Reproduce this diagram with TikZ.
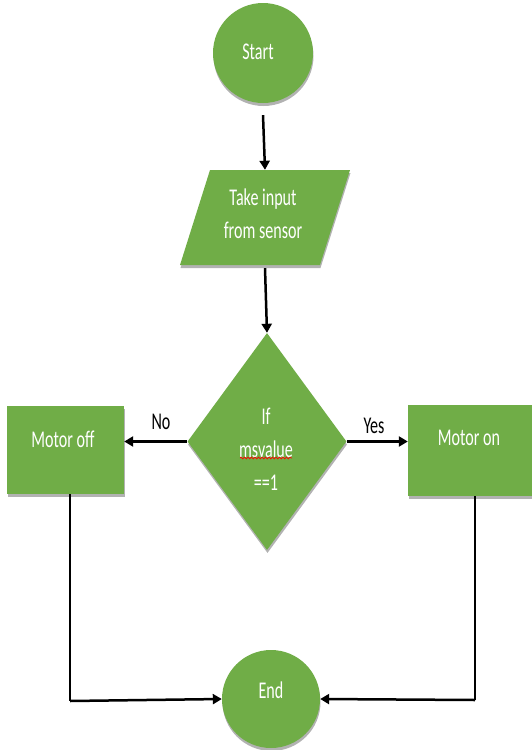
\documentclass[tikz,border=0pt]{standalone}
\usepackage{fontspec}
\setmainfont{Carlito}[FakeStretch=0.67]
\usetikzlibrary{arrows.meta,shapes.geometric,shadows,decorations.pathmorphing}
\definecolor{flgreen}{RGB}{112,173,71}
\begin{document}
\begin{tikzpicture}[x=1pt,y=-1pt,
  shp/.style={fill=flgreen, draw=none, inner sep=0pt,
    drop shadow={shadow xshift=0.5pt,shadow yshift=-3pt,opacity=0.3,fill=black}},
  txt/.style={text=white, font=\fontsize{24}{33}\selectfont, align=center, inner sep=0pt},
  lbl/.style={text=black, font=\fontsize{24}{33}\selectfont, inner sep=0pt},
  arr/.style={line width=2.5pt, -{Triangle[length=9pt,width=10pt]}},
  linkline/.style={line width=1.2pt}]
\useasboundingbox (0,0) rectangle (531,750);
% shapes
\node[shp, circle, minimum size=100pt] (start) at (263,53) {};
\node[txt] (starttxt) at (258,52) {Start};

\path[shp] (210,170) -- (350,170) -- (320,265) -- (180,265) -- cycle;
\node[minimum width=140pt, minimum height=95pt, inner sep=0pt] (inp) at (265,217.5) {};
\node[txt] (inptxt) at (263,213.5) {Take input\\from sensor};

\node[shp, diamond, minimum width=159pt, minimum height=217pt] (dia) at (267,441.5) {};
\node[txt] (diatxt) at (266,449) {If\\msvalue\\==1};
\draw[red, line width=0.7pt, decorate, decoration={snake, amplitude=0.9pt, segment length=3.5pt}] (240,458) -- (292,458);

\node[shp, rectangle, minimum width=117pt, minimum height=88pt] (off) at (65.5,450) {};
\node[txt] (offtxt) at (63,439) {Motor off};

\node[shp, rectangle, minimum width=130pt, minimum height=91pt] (on) at (473,450.5) {};
\node[txt] (ontxt) at (469,438) {Motor on};

\node[shp, circle, minimum size=98pt] (end) at (271,699) {};
\node[txt] (endtxt) at (271,690) {End};

% connectors
\draw[arr] ([yshift=-12pt]start.south) -- (inp.north);
\draw[arr] ([yshift=-3pt]inp.south) -- (dia.north);
\draw[arr] (dia.west) -- (dia.west -| off.east);
\draw[arr] (dia.east) -- (dia.east -| on.west);
\node[lbl] (no) at (161,422) {No};
\node[lbl] (yes) at (374,426) {Yes};

\coordinate (c1) at (70,701);
\coordinate (c2) at (475,700);
\draw[linkline] (off.south -| c1) -- (c1);
\draw[arr] (c1) -- (end.west);
\draw[linkline] (on.south -| c2) -- (c2);
\draw[arr] (c2) -- (end.east);
\end{tikzpicture}
\end{document}
